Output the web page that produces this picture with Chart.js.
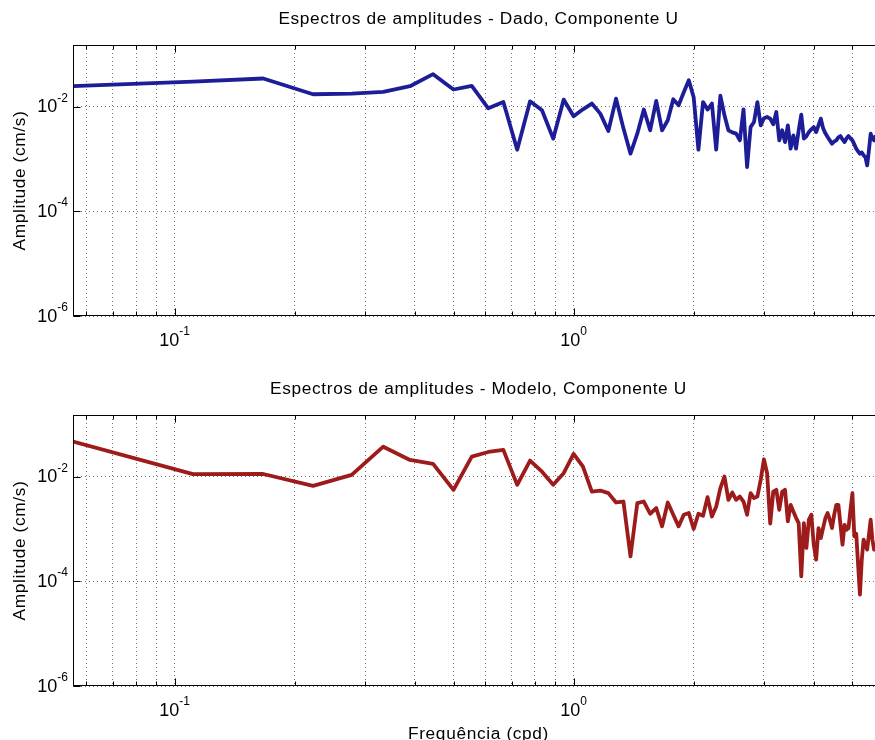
<!DOCTYPE html>
<html>
<head>
<meta charset="utf-8">
<script src="https://cdn.jsdelivr.net/npm/chart.js@4.4.1/dist/chart.umd.min.js"></script>
<style>
  html, body { margin: 0; padding: 0; width: 875px; height: 740px; overflow: hidden; background: #fff; }
  canvas { position: absolute; left: 0; }
</style>
</head>
<body>
<canvas id="dado" width="890" height="370" style="top:0"></canvas>
<canvas id="modelo" width="890" height="370" style="top:370px"></canvas>
<script>
// frequencias (cpd)
var freqs = [
  0.0556, 0.1111, 0.1667, 0.2222, 0.2778, 0.3333, 0.3889, 0.4444, 0.5, 0.5556,
  0.6111, 0.6667, 0.7222, 0.7778, 0.8333, 0.8889, 0.9444, 1, 1.0556, 1.1111,
  1.1667, 1.2222, 1.2778, 1.3333, 1.3889, 1.4444, 1.5, 1.5556, 1.6111, 1.6667,
  1.7222, 1.7778, 1.8333, 1.8889, 1.9444, 2, 2.0556, 2.1111, 2.1667, 2.2222,
  2.2778, 2.3333, 2.3889, 2.4444, 2.5, 2.5556, 2.6111, 2.6667, 2.7222, 2.7778,
  2.8333, 2.8889, 2.9444, 3, 3.0556, 3.1111, 3.1667, 3.2222, 3.2778, 3.3333,
  3.3889, 3.4444, 3.5, 3.5556, 3.6111, 3.6667, 3.7222, 3.7778, 3.8333, 3.8889,
  3.9444, 4, 4.0556, 4.1111, 4.1667, 4.2222, 4.2778, 4.3333, 4.3889, 4.4444,
  4.5, 4.5556, 4.6111, 4.6667, 4.7222, 4.7778, 4.8333, 4.8889, 4.9444, 5,
  5.0556, 5.1111, 5.1667, 5.2222, 5.2778, 5.3333, 5.3889, 5.4444, 5.5, 5.5556,
  5.6111, 5.6667, 5.7222
];

// amplitudes (cm/s) - dado
var ampDado = [
  0.0245, 0.0299, 0.0344, 0.0172, 0.0176, 0.0191, 0.0245, 0.0416, 0.0212, 0.0248,
  0.00927, 0.0122, 0.0015, 0.0126, 0.00849, 0.00244, 0.0136, 0.00652, 0.00887, 0.0114,
  0.00734, 0.00341, 0.0142, 0.00384, 0.00126, 0.00304, 0.00877, 0.00352, 0.0128, 0.00352,
  0.00547, 0.0138, 0.0106, 0.0188, 0.0319, 0.0151, 0.0015, 0.0122, 0.00877, 0.0114,
  0.0015, 0.0161, 0.00681, 0.00352, 0.00322, 0.00304, 0.00226, 0.00887, 0.000697, 0.00406,
  0.00507, 0.0122, 0.00438, 0.00597, 0.00632, 0.00589, 0.00458, 0.00788, 0.00226, 0.00352,
  0.0021, 0.00438, 0.00157, 0.00282, 0.00157, 0.00352, 0.00703, 0.00244, 0.0027, 0.00326,
  0.00367, 0.00406, 0.00326, 0.00438, 0.00589, 0.00384, 0.00308, 0.00262, 0.00226, 0.00195,
  0.00216, 0.00226, 0.00258, 0.00273, 0.00236, 0.0021, 0.00247, 0.00273, 0.00247, 0.00226,
  0.0019, 0.00157, 0.00139, 0.00126, 0.00133, 0.00117, 0.00108, 0.000751, 0.00146, 0.00304,
  0.00247, 0.00226, 0.00282
];

// amplitudes (cm/s) - modelo
var ampModelo = [
  0.0465, 0.0111, 0.0112, 0.00665, 0.0108, 0.0372, 0.0208, 0.0175, 0.00558, 0.024,
  0.0295, 0.0323, 0.00695, 0.0202, 0.0124, 0.00695, 0.0116, 0.027, 0.0155, 0.00518,
  0.00541, 0.00483, 0.0032, 0.00334, 0.000299, 0.00311, 0.00334, 0.00195, 0.0025, 0.00112,
  0.0032, 0.00186, 0.00112, 0.00186, 0.00201, 0.000996, 0.00195, 0.00178, 0.00405, 0.00173,
  0.00268, 0.00601, 0.01, 0.0036, 0.00496, 0.0036, 0.00416, 0.00334, 0.00186, 0.00483,
  0.00388, 0.00416, 0.00865, 0.0214, 0.0116, 0.00126, 0.00518, 0.00558, 0.00232, 0.00511,
  0.00558, 0.00139, 0.00289, 0.00216, 0.00163, 0.00129, 0.000124, 0.00129, 0.000433, 0.0015,
  0.00186, 0.0005, 0.000259, 0.00104, 0.000671, 0.00105, 0.00161, 0.00201, 0.0015, 0.00104,
  0.00186, 0.00289, 0.00289, 0.0012, 0.0005, 0.0012, 0.000966, 0.00104, 0.00232, 0.00483,
  0.00072, 0.00081, 0.000208, 0.0000558, 0.000259, 0.000622, 0.0005, 0.000402, 0.000776, 0.0015,
  0.000622, 0.000402, 0.000465
];

var xTicks = [0.06, 0.07, 0.08, 0.09, 0.1, 0.2, 0.3, 0.4, 0.5, 0.6, 0.7, 0.8, 0.9, 1, 2, 3, 4, 5];
var xMajor = [0.1, 1];
var yTicks = [1e-6, 1e-4, 1e-2];

var FONT = '"Liberation Sans", Arial, Helvetica, sans-serif';

function label(ctx, text, x, y, rot) {
  ctx.save();
  ctx.translate(x, y);
  if (rot) ctx.rotate(rot);
  ctx.scale(1.08, 1);
  ctx.font = '16px ' + FONT;
  ctx.letterSpacing = '0.6px';
  ctx.textAlign = 'center';
  ctx.textBaseline = 'alphabetic';
  ctx.fillText(text, 0, 0);
  ctx.restore();
}

function power(ctx, v, x, base, align) {
  var sup = String(Math.round(Math.log10(v)));
  ctx.font = '18px ' + FONT;
  var w1 = ctx.measureText('10').width;
  ctx.font = '12px ' + FONT;
  var w2 = ctx.measureText(sup).width;
  var x0 = align === 'right' ? x - w1 - w2 : x - (w1 + w2) / 2;
  ctx.textAlign = 'left';
  ctx.textBaseline = 'alphabetic';
  ctx.font = '18px ' + FONT;
  ctx.fillText('10', x0, base);
  ctx.font = '12px ' + FONT;
  ctx.fillText(sup, x0 + w1, base - 10.5);
}

// caixa, ticks internos e textos no estilo do matlab
var matlabLook = {
  id: 'matlabLook',
  afterDraw: function (chart, args, opts) {
    var ctx = chart.ctx, a = chart.chartArea, x = chart.scales.x, y = chart.scales.y;
    var L = Math.round(a.left) + 0.5, R = Math.round(a.right) - 0.5;
    var T = Math.round(a.top) + 0.5, B = Math.round(a.bottom) - 0.5;
    ctx.save();
    ctx.strokeStyle = '#000';
    ctx.lineWidth = 1;
    ctx.setLineDash([]);
    ctx.strokeRect(L, T, R - L, B - T);
    ctx.beginPath();
    xTicks.forEach(function (v) {
      var px = Math.round(x.getPixelForValue(v)) + 0.5;
      var len = xMajor.indexOf(v) >= 0 ? 7 : 4;
      ctx.moveTo(px, B); ctx.lineTo(px, B - len);
      ctx.moveTo(px, T); ctx.lineTo(px, T + len);
    });
    yTicks.forEach(function (v) {
      var py = Math.round(y.getPixelForValue(v)) + 0.5;
      ctx.moveTo(L, py); ctx.lineTo(L + 7, py);
      ctx.moveTo(R, py); ctx.lineTo(R - 7, py);
    });
    ctx.stroke();

    ctx.fillStyle = '#000';
    yTicks.forEach(function (v) {
      var py = y.getPixelForValue(v);
      power(ctx, v, a.left - 5, py + 5.5, 'right');
    });
    xMajor.forEach(function (v) {
      power(ctx, v, x.getPixelForValue(v), a.bottom + 29.5, 'center');
    });
    var cx = (a.left + a.right) / 2;
    label(ctx, opts.title, cx, a.top - 21);
    label(ctx, 'Amplitude (cm/s)', 25, (a.top + a.bottom) / 2, -Math.PI / 2);
    if (opts.xlabel) label(ctx, opts.xlabel, cx, 369);
    ctx.restore();
  }
};

function espectro(id, titulo, amps, cor, xlabel) {
  return new Chart(document.getElementById(id), {
    type: 'line',
    data: {
      datasets: [{
        data: freqs.map(function (f, i) { return {x: f, y: amps[i]}; }),
        borderColor: cor,
        borderWidth: 3.8,
        borderJoinStyle: 'round',
        pointRadius: 0,
        tension: 0,
        fill: false
      }]
    },
    options: {
      responsive: false,
      devicePixelRatio: 1,
      animation: false,
      events: [],
      layout: {padding: {top: 45, right: 6, left: 0, bottom: 0}},
      plugins: {
        legend: {display: false},
        tooltip: {enabled: false},
        matlabLook: {title: titulo, xlabel: xlabel}
      },
      scales: {
        x: {
          type: 'logarithmic', min: 0.0556, max: 6,
          afterBuildTicks: function (s) { s.ticks = xTicks.map(function (v) { return {value: v}; }); },
          afterFit: function (s) { s.height = 54; },
          ticks: {display: false},
          grid: {color: 'rgba(0,0,0,0.55)', lineWidth: 1, drawTicks: false},
          border: {display: false, dash: [1, 3]}
        },
        y: {
          type: 'logarithmic', min: 1e-6, max: 0.15,
          afterBuildTicks: function (s) { s.ticks = yTicks.map(function (v) { return {value: v}; }); },
          afterFit: function (s) { s.width = 73; },
          ticks: {display: false},
          grid: {color: 'rgba(0,0,0,0.55)', lineWidth: 1, drawTicks: false},
          border: {display: false, dash: [1, 3]}
        }
      }
    },
    plugins: [matlabLook]
  });
}

espectro('dado', 'Espectros de amplitudes - Dado, Componente U', ampDado, '#1d1d98', '');
espectro('modelo', 'Espectros de amplitudes - Modelo, Componente U', ampModelo, '#9e1b1b', 'Frequência (cpd)');
</script>
</body>
</html>
